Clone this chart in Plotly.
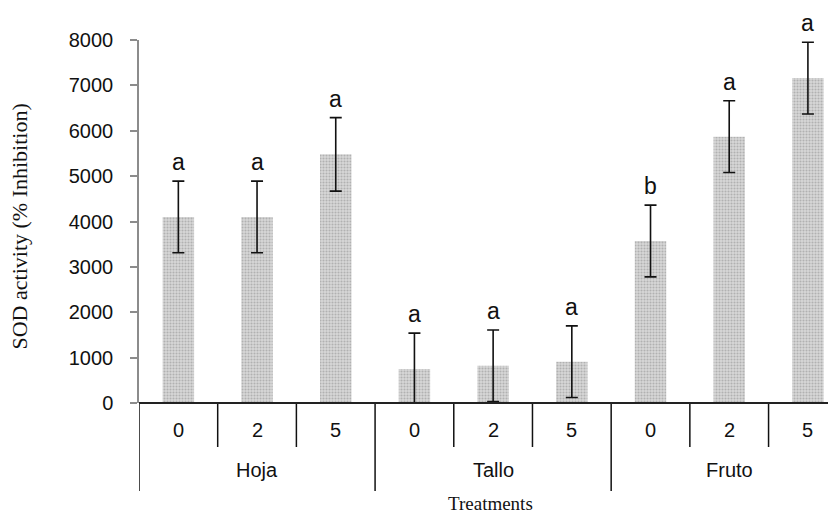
import plotly.graph_objects as go

groups = ["Hoja", "Tallo", "Fruto"]
doses = ["0", "2", "5"]
values = [4100, 4100, 5480, 750, 820, 910, 3570, 5870, 7160]
errors = [790, 790, 810, 790, 790, 790, 790, 790, 790]
letters = ["a", "a", "a", "a", "a", "a", "b", "a", "a"]
y_ticks = [0, 1000, 2000, 3000, 4000, 5000, 6000, 7000, 8000]

n = len(values)
xs = list(range(n))

fig = go.Figure()
fig.add_trace(go.Bar(
    x=xs, y=values, width=0.4,
    marker=dict(color="#c4c4c4", line=dict(width=0),
                pattern=dict(shape=".", fgcolor="#8a8a8a", bgcolor="#d8d8d8", size=3, solidity=0.4)),
    error_y=dict(type="data", array=errors, visible=True, color="#111111", thickness=1.6, width=6),
    showlegend=False,
))

ann = []
for i, (v, e, l) in enumerate(zip(values, errors, letters)):
    ann.append(dict(x=i, y=v + e, xref="x", yref="y", text=l, showarrow=False,
                    yanchor="bottom", yshift=4, font=dict(family="Liberation Sans", size=23, color="#111")))
for gi, g in enumerate(groups):
    for di, d in enumerate(doses):
        ann.append(dict(x=gi * 3 + di, y=0, xref="x", yref="paper", text=d, showarrow=False,
                        yanchor="middle", yshift=-27, font=dict(family="Liberation Sans", size=20, color="#111")))
    ann.append(dict(x=gi * 3 + 1, y=0, xref="x", yref="paper", text=g, showarrow=False,
                    yanchor="middle", yshift=-67, font=dict(family="Liberation Sans", size=20, color="#111")))
ann.append(dict(x=4, y=0, xref="x", yref="paper", text="Treatments", showarrow=False,
                yanchor="middle", yshift=-100, xshift=-3, font=dict(family="Liberation Serif", size=19, color="#111")))
ann.append(dict(x=0, y=0.5, xref="paper", yref="paper", text="SOD activity (% Inhibition)", showarrow=False,
                textangle=-90, xanchor="center", yanchor="middle", xshift=-120, yshift=-5,
                font=dict(family="Liberation Serif", size=22, color="#111")))

shapes = []
plot_h = 363.0
for k in range(n + 1):
    xb = k - 0.5
    long = (k % 3 == 0)
    y1 = -(88 / plot_h) if long else -(44 / plot_h)
    shapes.append(dict(type="line", xref="x", yref="paper", x0=xb, x1=xb, y0=0, y1=y1,
                       line=dict(color="#111", width=1.5)))
shapes.append(dict(type="line", xref="paper", yref="paper", x0=0, x1=1, y0=0, y1=0,
                   line=dict(color="#222", width=1.8)))

fig.update_layout(
    width=828, height=507,
    margin=dict(l=131, r=0, t=32, b=112),
    paper_bgcolor="white", plot_bgcolor="white",
    xaxis=dict(range=[-0.5, 8.357], showticklabels=False, showgrid=False, zeroline=False,
               showline=False, ticks=""),
    yaxis=dict(range=[0, 8000], tickvals=y_ticks, showgrid=False, zeroline=False,
               showline=True, linecolor="#8c8c8c", linewidth=1.5,
               ticks="outside", ticklen=7, tickcolor="#8c8c8c", tickwidth=1.5,
               ticklabelstandoff=13,
               tickfont=dict(family="Liberation Sans", size=20, color="#111")),
    annotations=ann, shapes=shapes,
    bargap=0.6,
)

fig.write_html("out.html")
